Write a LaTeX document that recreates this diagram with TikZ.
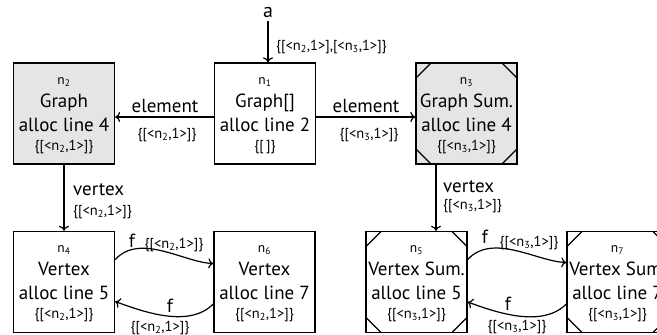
\documentclass[tikz,border=0pt]{standalone}
\usepackage{fontspec}
\setmainfont{PT Sans}
\usetikzlibrary{arrows.meta,calc}

\tikzset{
  box/.style={draw, line width=1.4pt, minimum width=101pt, minimum height=101pt, inner sep=0pt},
  shaded/.style={fill=gray!20},
  summary/.style={path picture={
      \draw[line width=1.1pt]
        ([xshift=15pt]path picture bounding box.north west) -- ([yshift=-15pt]path picture bounding box.north west)
        ([xshift=-15pt]path picture bounding box.north east) -- ([yshift=-15pt]path picture bounding box.north east)
        ([xshift=15pt]path picture bounding box.south west) -- ([yshift=15pt]path picture bounding box.south west)
        ([xshift=-15pt]path picture bounding box.south east) -- ([yshift=15pt]path picture bounding box.south east);
    }},
  bigtxt/.style={font=\fontsize{19}{22}\selectfont, inner sep=0pt, anchor=base},
  smalltxt/.style={font=\fontsize{14.5}{16}\selectfont, inner sep=0pt, anchor=base},
  idtxt/.style={font=\fontsize{13.5}{15}\selectfont, inner sep=0pt, anchor=base},
  edgeline/.style={line width=1.2pt, -{To[length=5pt,width=10pt]}},
}

% one heap node: name, x, y, extra style, id, first line, second line, points-to set
\newcommand\heapnode[8]{%
  \node[box,#4] (#1) at (#2,#3) {};
  \node[idtxt] (#1-id) at ([yshift=29.5pt]#1.center) {#5};
  \node[bigtxt] (#1-kind) at ([yshift=6.5pt]#1.center) {#6};
  \node[bigtxt] (#1-line) at ([yshift=-17.5pt]#1.center) {#7};
  \node[smalltxt] (#1-set) at ([yshift=-36.5pt]#1.center) {#8};
}

\begin{document}
\begin{tikzpicture}[x=1pt,y=-1pt]
\clip (0,0) rectangle (657,335);
\useasboundingbox (0,0) rectangle (657,335);

\heapnode{n2}{64}{113.5}{shaded}{n\textsubscript{2}}{Graph}{alloc line 4}{\{[<n\textsubscript{2},1>]\}}
\heapnode{n1}{265}{113.5}{}{n\textsubscript{1}}{Graph[]}{alloc line 2}{\{[\,]\}}
\heapnode{n3}{466.5}{113.5}{shaded,summary}{n\textsubscript{3}}{Graph Sum.}{alloc line 4}{\{[<n\textsubscript{3},1>]\}}
\heapnode{n4}{64}{282}{}{n\textsubscript{4}}{Vertex}{alloc line 5}{\{[<n\textsubscript{2},1>]\}}
\heapnode{n6}{264.5}{282}{}{n\textsubscript{6}}{Vertex}{alloc line 7}{\{[<n\textsubscript{2},1>]\}}
\heapnode{n5}{416.5}{282}{summary}{n\textsubscript{5}}{Vertex Sum.}{alloc line 5}{\{[<n\textsubscript{3},1>]\}}
\heapnode{n7}{617.5}{282}{summary}{n\textsubscript{7}}{Vertex Sum.}{alloc line 7}{\{[<n\textsubscript{3},1>]\}}

% the variable a
\node[font=\fontsize{20}{22}\selectfont, inner sep=0pt] (a) at (268,12) {a};
\draw[edgeline] ([yshift=-4pt]a.south) -- (a |- n1.north);
\node[smalltxt, anchor=base west] (la) at (276,50) {\{[<n\textsubscript{2},1>],[<n\textsubscript{3},1>]\}};

% element edges
\draw[edgeline] ([yshift=-3.5pt]n1.west) -- ([yshift=-3.5pt]n2.east);
\node[bigtxt] (l12) at (165,112.5) {element};
\node[smalltxt] (l12s) at (167,138) {\{[<n\textsubscript{2},1>]\}};
\draw[edgeline] ([yshift=-3.5pt]n1.east) -- ([yshift=-3.5pt]n3.west);
\node[bigtxt] (l13) at (366,112.5) {element};
\node[smalltxt] (l13s) at (369,138) {\{[<n\textsubscript{3},1>]\}};

% vertex edges
\draw[edgeline] (n2.south) -- (n4.north);
\node[bigtxt, anchor=base west] (l24) at (73,195) {vertex};
\node[smalltxt, anchor=base west] (l24s) at (73,215) {\{[<n\textsubscript{2},1>]\}};
\draw[edgeline] ([xshift=-30.5pt]n3.south) -- ([xshift=19.5pt]n5.north);
\node[bigtxt, anchor=base west] (l35) at (443,192) {vertex};
\node[smalltxt, anchor=base west] (l35s) at (443,209) {\{[<n\textsubscript{3},1>]\}};

% f edges between vertices
\draw[edgeline] ([yshift=22.5pt]n4.east) .. controls +(25,-27) and +(-29,-1) .. ([yshift=18.5pt]n6.west);
\node[bigtxt] (l46) at (132,247) {f};
\node[smalltxt] (l46s) at (174,248) {\{[<n\textsubscript{2},1>]\}};
\draw[edgeline] ([yshift=-22pt]n6.west) .. controls +(-24,24) and +(30,11) .. ([yshift=-19.5pt]n4.east);
\node[bigtxt] (l64) at (170,312) {f};
\node[smalltxt] (l64s) at (160,331) {\{[<n\textsubscript{2},1>]\}};

\draw[edgeline] ([yshift=22.5pt]n5.east) .. controls +(25,-27) and +(-29,-1) .. ([yshift=19.5pt]n7.west);
\node[bigtxt] (l57) at (485,243) {f};
\node[smalltxt] (l57s) at (529,246) {\{[<n\textsubscript{3},1>]\}};
\draw[edgeline] ([yshift=-22pt]n7.west) .. controls +(-24,24) and +(30,11) .. ([yshift=-20pt]n5.east);
\node[bigtxt] (l75) at (508,310) {f};
\node[smalltxt] (l75s) at (517,330) {\{[<n\textsubscript{3},1>]\}};
\end{tikzpicture}
\end{document}
